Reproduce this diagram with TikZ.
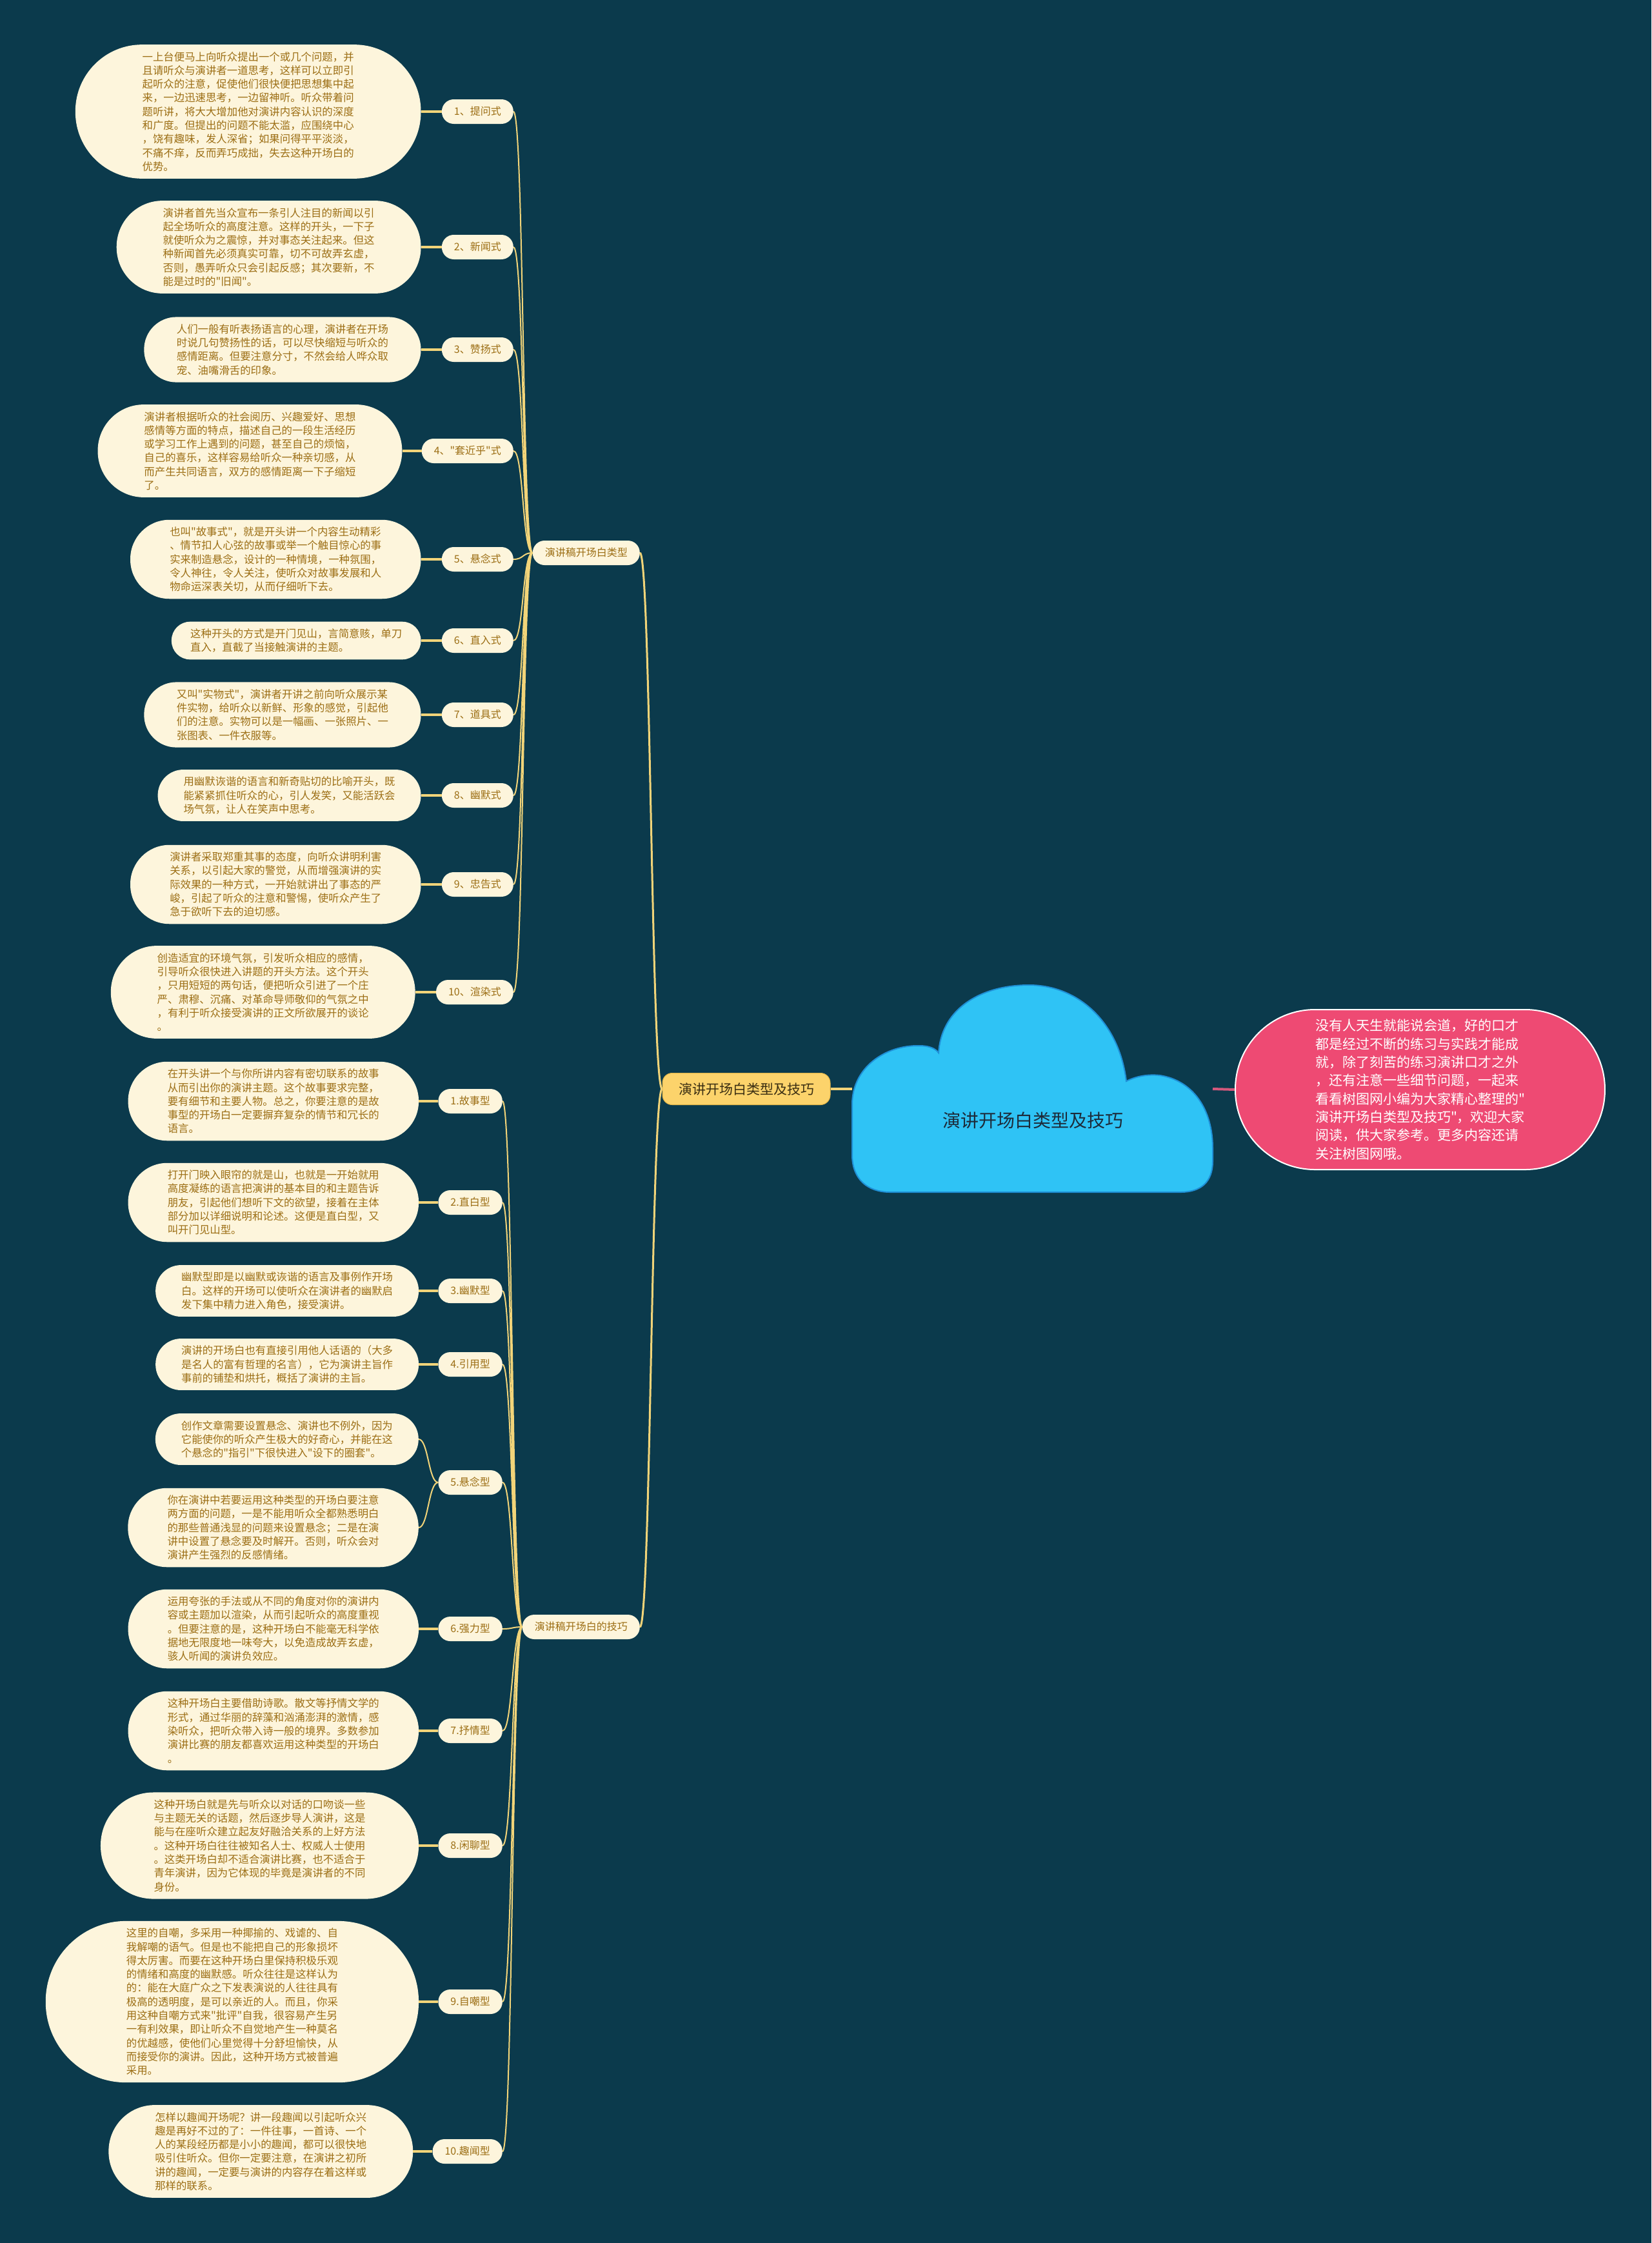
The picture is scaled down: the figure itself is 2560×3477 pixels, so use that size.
\documentclass[tikz,border=0pt]{standalone}
\usepackage{fontspec}
\newfontfamily\cjk{Noto Sans CJK SC}
\usetikzlibrary{positioning}
\definecolor{bgteal}{HTML}{0B3A4C}
\definecolor{cream}{HTML}{FDF5DC}
\definecolor{ink}{HTML}{9C6E14}
\definecolor{twigcol}{HTML}{F2D479}
\definecolor{hubcol}{HTML}{FCD36B}
\definecolor{hubline}{HTML}{E2B548}
\definecolor{hubtext}{HTML}{3A2E12}
\definecolor{cloudcol}{HTML}{2FC3F5}
\definecolor{cloudline}{HTML}{1F8FD6}
\definecolor{cloudtext}{HTML}{1D2B3A}
\definecolor{notecol}{HTML}{EE4A73}
\definecolor{linkcol}{HTML}{D4587C}
\newcommand\memofont{\cjk\fontsize{16.4}{21.3}\selectfont}
\newcommand\tagfont{\cjk\fontsize{16}{19}\selectfont}
\newcommand\notefont{\cjk\fontsize{21}{28.3}\selectfont}

\begin{document}
\begin{tikzpicture}[x=1pt,y=-1pt,
  memo/.style={rectangle, fill=cream, text=ink, font=\memofont, text width=328pt, align=left,
    minimum height={#1*21.3pt+16pt}, inner ysep=0pt, inner xsep={(#1*21.3pt+16pt)/2},
    rounded corners={(#1*21.3pt+16pt)/2-0.5pt}},
  tag/.style={rectangle, fill=cream, text=ink, font=\tagfont, minimum height=38pt,
    inner ysep=0pt, inner xsep=19pt, rounded corners=18.5pt, text height=13pt, text depth=3pt},
  hubbox/.style={rectangle, rounded corners=15pt, fill=hubcol, draw=hubline, line width=1pt, text=hubtext, minimum width=260pt, minimum height=49pt, font={\cjk\fontsize{21}{25}\selectfont}},
  note/.style={rectangle, fill=notecol, draw=white, line width=2pt, text=white, font=\notefont, align=left,
    minimum height=248pt, inner ysep=0pt, inner xsep=124pt, rounded corners=123.5pt},
  stem/.style={twigcol, line width=4pt},
  twig/.style={twigcol, line width=2pt},
  trunk/.style={twigcol, line width=3pt}]
\path[use as bounding box, fill=bgteal] (0,0) rectangle (2560,3477);

% cloud
\filldraw[fill=cloudcol, draw=cloudline, line width=2pt]
  (1380,1848) .. controls (1345,1848) and (1321,1828) .. (1321,1790)
  -- (1321,1712)
  .. controls (1321,1655) and (1372,1620) .. (1425,1621)
  .. controls (1440,1621) and (1450,1625) .. (1455,1632)
  .. controls (1460,1560) and (1525,1527) .. (1595,1527)
  .. controls (1672,1527) and (1735,1585) .. (1746,1676)
  .. controls (1762,1668) and (1780,1665) .. (1798,1667)
  .. controls (1850,1675) and (1880,1720) .. (1880,1780)
  -- (1880,1800)
  .. controls (1880,1832) and (1862,1848) .. (1830,1848)
  -- cycle;
\node[text=cloudtext, font={\cjk\fontsize{28}{32}\selectfont}] (core) at (1601,1737) {演讲开场白类型及技巧};
\coordinate (cloudW) at (1321,1688);
\coordinate (cloudE) at (1880,1688);

\node[hubbox] (hub) at (1157,1688) {演讲开场白类型及技巧};
\node[note, anchor=west] (blurb) at (1914,1689) {没有人天生就能说会道，好的口才\\
都是经过不断的练习与实践才能成\\
就，除了刻苦的练习演讲口才之外\\
，还有注意一些细节问题，一起来\\
看看树图网小编为大家精心整理的"\\
演讲开场白类型及技巧"，欢迎大家\\
阅读，供大家参考。更多内容还请\\
关注树图网哦。};

\node[tag, anchor=east] (kinds) at (992,857) {演讲稿开场白类型};
\node[tag, anchor=east] (knacks) at (992,2522) {演讲稿开场白的技巧};

% types
\node[tag, anchor=east] (t1) at (796,173) {1、提问式};
\node[memo=9, left=32pt of t1] (m1) {一上台便马上向听众提出一个或几个问题，并\\
且请听众与演讲者一道思考，这样可以立即引\\
起听众的注意，促使他们很快便把思想集中起\\
来，一边迅速思考，一边留神听。听众带着问\\
题听讲，将大大增加他对演讲内容认识的深度\\
和广度。但提出的问题不能太滥，应围绕中心\\
，饶有趣味，发人深省；如果问得平平淡淡，\\
不痛不痒，反而弄巧成拙，失去这种开场白的\\
优势。};
\node[tag, anchor=east] (t2) at (796,383) {2、新闻式};
\node[memo=6, left=32pt of t2] (m2) {演讲者首先当众宣布一条引人注目的新闻以引\\
起全场听众的高度注意。这样的开头，一下子\\
就使听众为之震惊，并对事态关注起来。但这\\
种新闻首先必须真实可靠，切不可故弄玄虚，\\
否则，愚弄听众只会引起反感；其次要新，不\\
能是过时的"旧闻"。};
\node[tag, anchor=east] (t3) at (796,542) {3、赞扬式};
\node[memo=4, left=32pt of t3] (m3) {人们一般有听表扬语言的心理，演讲者在开场\\
时说几句赞扬性的话，可以尽快缩短与听众的\\
感情距离。但要注意分寸，不然会给人哗众取\\
宠、油嘴滑舌的印象。};
\node[tag, anchor=east] (t4) at (796,699) {4、"套近乎"式};
\node[memo=6, left=30pt of t4] (m4) {演讲者根据听众的社会阅历、兴趣爱好、思想\\
感情等方面的特点，描述自己的一段生活经历\\
或学习工作上遇到的问题，甚至自己的烦恼，\\
自己的喜乐，这样容易给听众一种亲切感，从\\
而产生共同语言，双方的感情距离一下子缩短\\
了。};
\node[tag, anchor=east] (t5) at (796,867) {5、悬念式};
\node[memo=5, left=32pt of t5] (m5) {也叫"故事式"，就是开头讲一个内容生动精彩\\
、情节扣人心弦的故事或举一个触目惊心的事\\
实来制造悬念，设计的一种情境，一种氛围，\\
令人神往，令人关注，使听众对故事发展和人\\
物命运深表关切，从而仔细听下去。};
\node[tag, anchor=east] (t6) at (796,993) {6、直入式};
\node[memo=2, left=32pt of t6] (m6) {这种开头的方式是开门见山，言简意赅，单刀\\
直入，直截了当接触演讲的主题。};
\node[tag, anchor=east] (t7) at (796,1108) {7、道具式};
\node[memo=4, left=32pt of t7] (m7) {又叫"实物式"，演讲者开讲之前向听众展示某\\
件实物，给听众以新鲜、形象的感觉，引起他\\
们的注意。实物可以是一幅画、一张照片、一\\
张图表、一件衣服等。};
\node[tag, anchor=east] (t8) at (796,1233) {8、幽默式};
\node[memo=3, left=32pt of t8] (m8) {用幽默诙谐的语言和新奇贴切的比喻开头，既\\
能紧紧抓住听众的心，引人发笑，又能活跃会\\
场气氛，让人在笑声中思考。};
\node[tag, anchor=east] (t9) at (796,1371) {9、忠告式};
\node[memo=5, left=32pt of t9] (m9) {演讲者采取郑重其事的态度，向听众讲明利害\\
关系，以引起大家的警觉，从而增强演讲的实\\
际效果的一种方式，一开始就讲出了事态的严\\
峻，引起了听众的注意和警惕，使听众产生了\\
急于欲听下去的迫切感。};
\node[tag, anchor=east] (t10) at (796,1538) {10、渲染式};
\node[memo=6, left=32pt of t10] (m10) {创造适宜的环境气氛，引发听众相应的感情，\\
引导听众很快进入讲题的开头方法。这个开头\\
，只用短短的两句话，便把听众引进了一个庄\\
严、肃穆、沉痛、对革命导师敬仰的气氛之中\\
，有利于听众接受演讲的正文所欲展开的谈论\\
。};

% knacks
\node[tag, anchor=east] (u1) at (779,1707) {1.故事型};
\node[memo=5, left=30pt of u1] (n1) {在开头讲一个与你所讲内容有密切联系的故事\\
从而引出你的演讲主题。这个故事要求完整，\\
要有细节和主要人物。总之，你要注意的是故\\
事型的开场白一定要摒弃复杂的情节和冗长的\\
语言。};
\node[tag, anchor=east] (u2) at (779,1864) {2.直白型};
\node[memo=5, left=30pt of u2] (n2) {打开门映入眼帘的就是山，也就是一开始就用\\
高度凝练的语言把演讲的基本目的和主题告诉\\
朋友，引起他们想听下文的欲望，接着在主体\\
部分加以详细说明和论述。这便是直白型，又\\
叫开门见山型。};
\node[tag, anchor=east] (u3) at (779,2001) {3.幽默型};
\node[memo=3, left=30pt of u3] (n3) {幽默型即是以幽默或诙谐的语言及事例作开场\\
白。这样的开场可以使听众在演讲者的幽默启\\
发下集中精力进入角色，接受演讲。};
\node[tag, anchor=east] (u4) at (779,2115) {4.引用型};
\node[memo=3, left=30pt of u4] (n4) {演讲的开场白也有直接引用他人话语的（大多\\
是名人的富有哲理的名言），它为演讲主旨作\\
事前的铺垫和烘托，概括了演讲的主旨。};
\node[tag, anchor=east] (u5) at (779,2298) {5.悬念型};
\node[memo=3, anchor=east] (n5a) at (649,2231) {创作文章需要设置悬念、演讲也不例外，因为\\
它能使你的听众产生极大的好奇心，并能在这\\
个悬念的"指引"下很快进入"设下的圈套"。};
\node[memo=5, anchor=east] (n5b) at (649,2368) {你在演讲中若要运用这种类型的开场白要注意\\
两方面的问题，一是不能用听众全都熟悉明白\\
的那些普通浅显的问题来设置悬念；二是在演\\
讲中设置了悬念要及时解开。否则，听众会对\\
演讲产生强烈的反感情绪。};
\node[tag, anchor=east] (u6) at (779,2525) {6.强力型};
\node[memo=5, left=30pt of u6] (n6) {运用夸张的手法或从不同的角度对你的演讲内\\
容或主题加以渲染，从而引起听众的高度重视\\
。但要注意的是，这种开场白不能毫无科学依\\
据地无限度地一味夸大，以免造成故弄玄虚，\\
骇人听闻的演讲负效应。};
\node[tag, anchor=east] (u7) at (779,2683) {7.抒情型};
\node[memo=5, left=30pt of u7] (n7) {这种开场白主要借助诗歌。散文等抒情文学的\\
形式，通过华丽的辞藻和汹涌澎湃的激情，感\\
染听众，把听众带入诗一般的境界。多数参加\\
演讲比赛的朋友都喜欢运用这种类型的开场白\\
。};
\node[tag, anchor=east] (u8) at (779,2861) {8.闲聊型};
\node[memo=7, left=30pt of u8] (n8) {这种开场白就是先与听众以对话的口吻谈一些\\
与主题无关的话题，然后逐步导人演讲，这是\\
能与在座听众建立起友好融洽关系的上好方法\\
。这种开场白往往被知名人士、权威人士使用\\
。这类开场白却不适合演讲比赛，也不适合于\\
青年演讲，因为它体现的毕竟是演讲者的不同\\
身份。};
\node[tag, anchor=east] (u9) at (779,3103) {9.自嘲型};
\node[memo=11, left=30pt of u9] (n9) {这里的自嘲，多采用一种揶揄的、戏谑的、自\\
我解嘲的语气。但是也不能把自己的形象损坏\\
得太厉害。而要在这种开场白里保持积极乐观\\
的情绪和高度的幽默感。听众往往是这样认为\\
的：能在大庭广众之下发表演说的人往往具有\\
极高的透明度，是可以亲近的人。而且，你采\\
用这种自嘲方式来"批评"自我，很容易产生另\\
一有利效果，即让听众不自觉地产生一种莫名\\
的优越感，使他们心里觉得十分舒坦愉快，从\\
而接受你的演讲。因此，这种开场方式被普遍\\
采用。};
\node[tag, anchor=east] (u10) at (779,3335) {10.趣闻型};
\node[memo=6, left=30pt of u10] (n10) {怎样以趣闻开场呢？讲一段趣闻以引起听众兴\\
趣是再好不过的了：一件往事，一首诗、一个\\
人的某段经历都是小小的趣闻，都可以很快地\\
吸引住听众。但你一定要注意，在演讲之初所\\
讲的趣闻，一定要与演讲的内容存在着这样或\\
那样的联系。};

\draw[stem] (hub.east) -- (cloudW);
\draw[linkcol, line width=4pt] (cloudE) -- (blurb.west);
\draw[trunk] (hub.west) .. controls +(-17,0) and +(17,0) .. (kinds.east)
  (hub.west) .. controls +(-17,0) and +(17,0) .. (knacks.east);
\draw[stem] (m1.east) -- (t1.west) (m2.east) -- (t2.west) (m3.east) -- (t3.west)
  (m4.east) -- (t4.west) (m5.east) -- (t5.west) (m6.east) -- (t6.west)
  (m7.east) -- (t7.west) (m8.east) -- (t8.west) (m9.east) -- (t9.west)
  (m10.east) -- (t10.west);
\draw[stem] (n1.east) -- (u1.west) (n2.east) -- (u2.west) (n3.east) -- (u3.west)
  (n4.east) -- (u4.west) (n6.east) -- (u6.west) (n7.east) -- (u7.west)
  (n8.east) -- (u8.west) (n9.east) -- (u9.west) (n10.east) -- (u10.west);
\draw[twig] (u5.west) .. controls +(-15,0) and +(15,0) .. (n5a.east)
  (u5.west) .. controls +(-15,0) and +(15,0) .. (n5b.east);
\draw[twig] (t1.east) .. controls +(16,0) and +(-16,0) .. (kinds.west)
  (t2.east) .. controls +(16,0) and +(-16,0) .. (kinds.west)
  (t3.east) .. controls +(16,0) and +(-16,0) .. (kinds.west)
  (t4.east) .. controls +(16,0) and +(-16,0) .. (kinds.west)
  (t5.east) .. controls +(16,0) and +(-16,0) .. (kinds.west)
  (t6.east) .. controls +(16,0) and +(-16,0) .. (kinds.west)
  (t7.east) .. controls +(16,0) and +(-16,0) .. (kinds.west)
  (t8.east) .. controls +(16,0) and +(-16,0) .. (kinds.west)
  (t9.east) .. controls +(16,0) and +(-16,0) .. (kinds.west)
  (t10.east) .. controls +(16,0) and +(-16,0) .. (kinds.west);
\draw[twig] (u1.east) .. controls +(16,0) and +(-16,0) .. (knacks.west)
  (u2.east) .. controls +(16,0) and +(-16,0) .. (knacks.west)
  (u3.east) .. controls +(16,0) and +(-16,0) .. (knacks.west)
  (u4.east) .. controls +(16,0) and +(-16,0) .. (knacks.west)
  (u5.east) .. controls +(16,0) and +(-16,0) .. (knacks.west)
  (u6.east) .. controls +(16,0) and +(-16,0) .. (knacks.west)
  (u7.east) .. controls +(16,0) and +(-16,0) .. (knacks.west)
  (u8.east) .. controls +(16,0) and +(-16,0) .. (knacks.west)
  (u9.east) .. controls +(16,0) and +(-16,0) .. (knacks.west)
  (u10.east) .. controls +(16,0) and +(-16,0) .. (knacks.west);
\end{tikzpicture}
\end{document}
